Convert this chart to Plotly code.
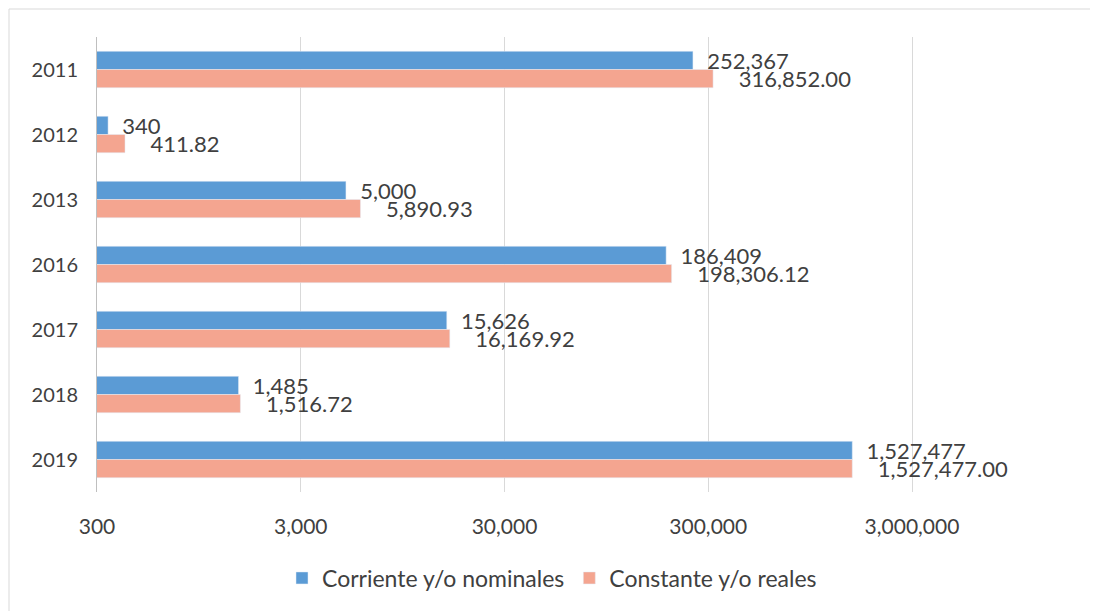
import math
import plotly.graph_objects as go

years = ["2011", "2012", "2013", "2016", "2017", "2018", "2019"]
corriente = [252367, 340, 5000, 186409, 15626, 1485, 1527477]
constante = [316852.00, 411.82, 5890.93, 198306.12, 16169.92, 1516.72, 1527477.00]
tick_vals = [300, 3000, 30000, 300000, 3000000]
tick_text = ["300", "3,000", "30,000", "300,000", "3,000,000"]

FONT = "Lato"
TXT = "#404040"

W, H = 1090, 603
ML, MR, MT, MB = 89, 2, 29, 119
PW, PH = W - ML - MR, H - MT - MB

fig = go.Figure()
fig.add_trace(go.Bar(
    y=years, x=corriente, orientation="h", name="Corriente y/o nominales",
    marker=dict(color="#5B9BD5"),
    texttemplate="  %{x:,.0f}", textposition="outside", constraintext="none",
    textfont=dict(family=FONT, size=22, color=TXT), cliponaxis=False,
))
fig.add_trace(go.Bar(
    y=years, x=constante, orientation="h", name="Constante y/o reales",
    marker=dict(color="#F4A590"),
    texttemplate="    %{x:,.2f}", textposition="outside", constraintext="none",
    textfont=dict(family=FONT, size=22, color=TXT), cliponaxis=False,
))

lo = math.log10(300)
fig.update_layout(
    width=W, height=H,
    margin=dict(l=ML, r=MR, t=MT, b=MB, autoexpand=False),
    paper_bgcolor="white", plot_bgcolor="white",
    barmode="group", bargap=0.44, bargroupgap=0,
    font=dict(family=FONT, color=TXT, size=18),
    xaxis=dict(type="log", range=[lo, lo + PW / 203.75], automargin=False,
               tickvals=tick_vals, ticktext=tick_text,
               showgrid=True, gridcolor="#D9D9D9", gridwidth=1,
               zeroline=False, showline=False, ticks="", ticklabelstandoff=20,
               tickfont=dict(family=FONT, size=21, color=TXT)),
    yaxis=dict(autorange="reversed", showgrid=False, showline=True, automargin=False,
               linecolor="#BFBFBF", linewidth=1, ticks="",
               ticklabelstandoff=14,
               tickfont=dict(family=FONT, size=20, color=TXT)),
    legend=dict(orientation="h", x=(552 - 97) / PW, xanchor="center", y=-86 / PH,
                yanchor="middle", font=dict(family=FONT, size=23, color=TXT),
                itemwidth=30, traceorder="normal"),
    showlegend=True,
    shapes=[dict(type="rect", xref="paper", yref="paper",
                 x0=-(ML - 1) / PW, x1=1, y0=-(MB + 10) / PH, y1=1 + (MT - 1) / PH,
                 line=dict(color="#D9D9D9", width=1), fillcolor="rgba(0,0,0,0)",
                 layer="below")],
)

fig.write_html("out.html")
